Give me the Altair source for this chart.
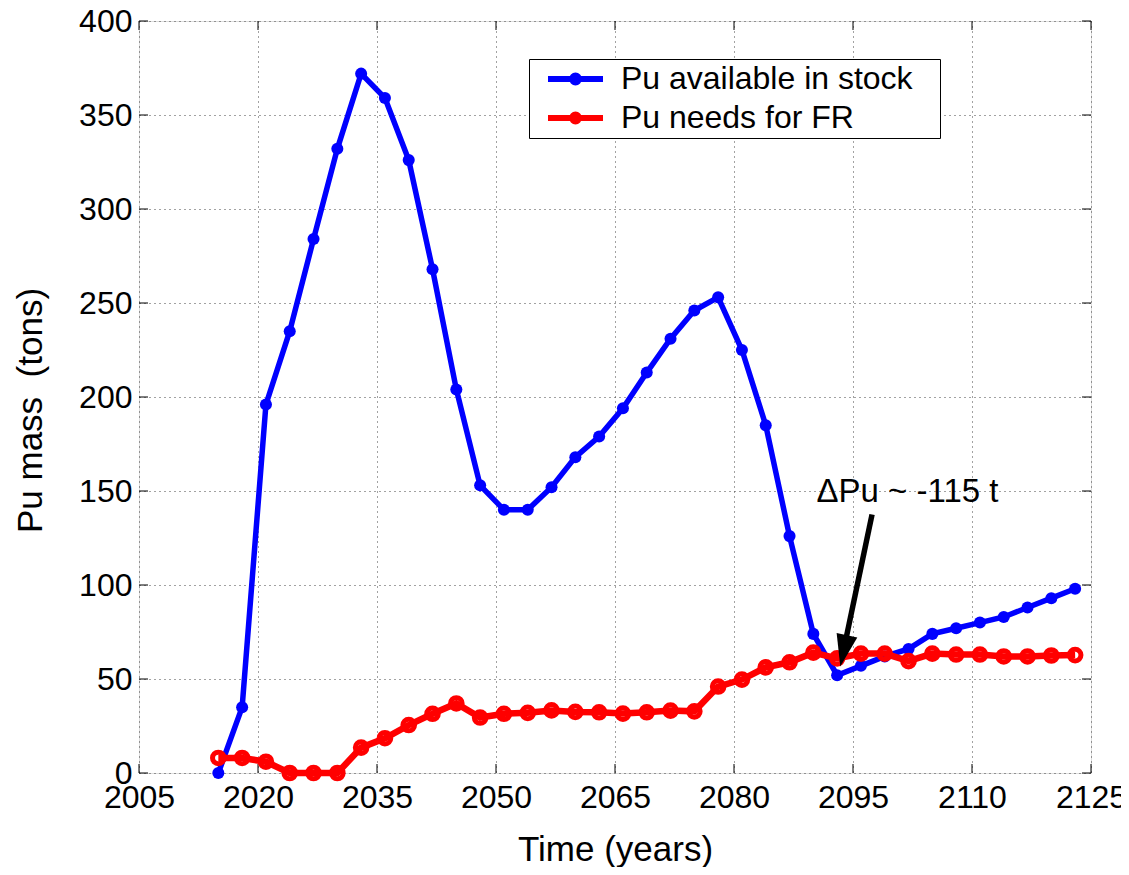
import altair as alt
import pandas as pd

# ---------------- data ----------------
years = [2015, 2018, 2021, 2024, 2027, 2030, 2033, 2036, 2039, 2042, 2045, 2048,
         2051, 2054, 2057, 2060, 2063, 2066, 2069, 2072, 2075, 2078, 2081, 2084,
         2087, 2090, 2093, 2096, 2099, 2102, 2105, 2108, 2111, 2114, 2117, 2120, 2123]
pu_stock = [0, 35, 196, 235, 284, 332, 372, 359, 326, 268, 204, 153,
            140, 140, 152, 168, 179, 194, 213, 231, 246, 253, 225, 185,
            126, 74, 52, 57, 62, 66, 74, 77, 80, 83, 88, 93, 98]
pu_needs = [8, 8, 6, 0, 0, 0, 13.5, 18.5, 25.5, 31.5, 37, 29.5,
            31.5, 32, 33.3, 32.5, 32.3, 31.6, 32.3, 33.2, 32.8, 46, 49.7, 56.2,
            58.9, 64, 61, 63.5, 63.5, 59.5, 63.5, 63, 63, 62, 62, 62.5, 62.7]
series_names = ["Pu available in stock", "Pu needs for FR"]
series_colors = ["#0000ff", "#ff0000"]
x_ticks = [2005, 2020, 2035, 2050, 2065, 2080, 2095, 2110, 2125]
y_ticks = [0, 50, 100, 150, 200, 250, 300, 350, 400]
x_domain = [2005, 2125]
y_domain = [0, 400]
x_title = "Time (years)"
y_title = "Pu mass\u00a0 (tons)"

annotation_text = ["\u0394Pu ~ -115 t"]
annotation_x = [2090.4]
annotation_y = [144]
arrow_x = [2097.4]
arrow_y = [137.5]
arrow_x2 = [2093.8]
arrow_y2 = [65]
arrow_tip_x = [2093.4]
arrow_tip_y = [56.6]

# ---------------- tables ----------------
stock_df = pd.DataFrame({"year": years, "mass": pu_stock, "series": series_names[0]})
needs_df = pd.DataFrame({"year": years, "mass": pu_needs, "series": series_names[1]})
xt_df = pd.DataFrame({"year": x_ticks})
yt_df = pd.DataFrame({"mass": y_ticks})
text_df = pd.DataFrame({"year": annotation_x, "mass": annotation_y, "t": annotation_text})
arrow_df = pd.DataFrame({"year": arrow_x, "mass": arrow_y, "year2": arrow_x2, "mass2": arrow_y2})
tip_df = pd.DataFrame({"year": arrow_tip_x, "mass": arrow_tip_y})

W, H = 952, 752
FONT = "Liberation Sans"

xs = alt.Scale(domain=x_domain, nice=False, zero=False)
ys = alt.Scale(domain=y_domain, nice=False)

x_axis = alt.Axis(values=x_ticks, format="d", title=x_title, grid=True,
                  ticks=False, domain=False, labelFontSize=32, labelFont=FONT,
                  labelColor="black", labelPadding=9, titleFontSize=35, titleFont=FONT,
                  titleFontWeight="normal", titleColor="black", titlePadding=19,
                  gridColor="#444", gridDash=[1, 4], gridWidth=1, labelFlush=False,
                  labelOverlap=False)
y_axis = alt.Axis(values=y_ticks, title=y_title, grid=True,
                  ticks=False, domain=False, labelFontSize=32, labelFont=FONT,
                  labelColor="black", labelPadding=7, titleFontSize=35, titleFont=FONT,
                  titleFontWeight="normal", titleColor="black", titlePadding=30,
                  titleY=389,
                  gridColor="#444", gridDash=[1, 4], gridWidth=1, labelFlush=False,
                  labelOverlap=False)

X = alt.X("year:Q", scale=xs, axis=x_axis)
Y = alt.Y("mass:Q", scale=ys, axis=y_axis)

legend_symbol = "M-3,0H3M-0.38,0A0.38,0.38,0,1,0,0.38,0A0.38,0.38,0,1,0,-0.38,0"
legend = alt.Legend(title=None, orient="none", legendX=390, legendY=38,
                    direction="vertical", symbolType=legend_symbol, symbolSize=336,
                    symbolStrokeWidth=6, labelFontSize=32, labelFont=FONT,
                    labelColor="black", labelLimit=0, padding=4, rowPadding=7,
                    symbolOffset=26.5, labelOffset=29.4, strokeColor="black",
                    fillColor="white", labelBaseline="middle",
                    labelExpr="datum.label + '\u2800'")
color = alt.Color("series:N", scale=alt.Scale(domain=series_names, range=series_colors),
                  legend=legend)

tick_len = 9
tb = alt.Chart(xt_df).mark_rule(color="black", strokeWidth=1).encode(
    x=X, y=alt.value(H), y2=alt.value(H - tick_len))
tt = alt.Chart(xt_df).mark_rule(color="black", strokeWidth=1).encode(
    x=X, y=alt.value(0), y2=alt.value(tick_len))
tl = alt.Chart(yt_df).mark_rule(color="black", strokeWidth=1).encode(
    y=Y, x=alt.value(0), x2=alt.value(tick_len))
tr = alt.Chart(yt_df).mark_rule(color="black", strokeWidth=1).encode(
    y=Y, x=alt.value(W), x2=alt.value(W - tick_len))

blue_line = alt.Chart(stock_df).mark_line(strokeWidth=5.5, clip=False).encode(
    x=X, y=Y, color=color)
blue_pts = alt.Chart(stock_df).mark_point(filled=True, size=145, opacity=1,
                                          color=series_colors[0]).encode(x=X, y=Y)
red_line = alt.Chart(needs_df).mark_line(strokeWidth=6.5, clip=False).encode(
    x=X, y=Y, color=color)
red_pts = alt.Chart(needs_df).mark_point(filled=False, size=135, strokeWidth=5,
                                         opacity=1, color=series_colors[1]).encode(x=X, y=Y)

arrow = alt.Chart(arrow_df).mark_rule(color="black", strokeWidth=5.5).encode(
    x=X, y=Y, x2="year2:Q", y2="mass2:Q")
tip = alt.Chart(tip_df).mark_point(shape="M0,0L-0.33,-1L0.33,-1Z", filled=True,
                                   size=4096, angle=12, color="black", opacity=1).encode(
    x=X, y=Y)
label = alt.Chart(text_df).mark_text(align="left", baseline="alphabetic", fontSize=33,
                                     font=FONT, color="black").encode(
    x=X, y=Y, text="t:N")

chart = alt.layer(tb, tt, tl, tr, blue_line, blue_pts, red_line, red_pts,
                  arrow, tip, label).properties(
    width=W, height=H,
    padding={"left": 131, "top": 13, "right": 30, "bottom": 94},
    autosize=alt.AutoSizeParams(type="none"),
).configure_view(stroke="#222", strokeWidth=1.5).configure(font=FONT, background="white")

chart.save("out.html", embed_options={"renderer": "svg", "actions": False})
